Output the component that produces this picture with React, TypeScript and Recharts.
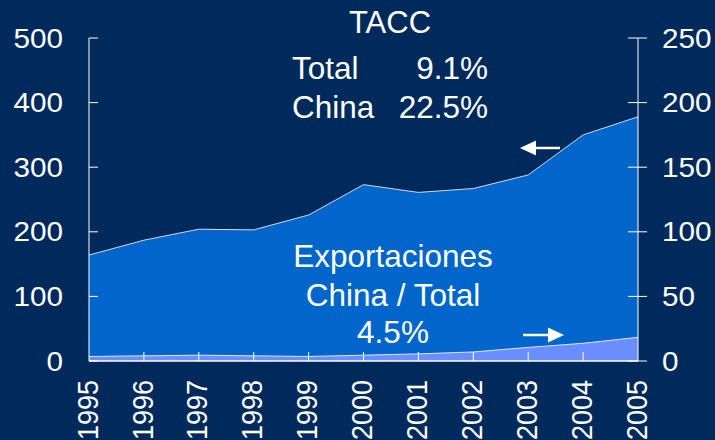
import React from "react";
import { AreaChart, Area, XAxis, YAxis } from "recharts";

const years = ["1995", "1996", "1997", "1998", "1999", "2000", "2001", "2002", "2003", "2004", "2005"];
const totalExports = [164, 187, 204, 203, 226, 273, 261, 267, 288, 350, 378];
const chinaExports = [3.5, 4, 4.5, 4, 3.5, 4.5, 5.5, 7, 10.5, 13.7, 18.3];
const leftTicks = [0, 100, 200, 300, 400, 500];
const rightTicks = [0, 50, 100, 150, 200, 250];

const data = years.map((y, i) => ({ year: y, total: totalExports[i], china: chinaExports[i] }));

const FONT = '"Liberation Sans", Arial, sans-serif';
const BG = "#00295C";
const AX = 27;

const LeftTick = (props: any) => {
  const { x, y, payload } = props;
  return (
    <g>
      <line x1={x} x2={x + 9} y1={y} y2={y} stroke="#fff" strokeWidth={1} />
      <g transform={`translate(63,${y}) scale(1.1,1)`}>
        <text x={0} y={0} dy={AX * 0.358} textAnchor="end" fill="#fff" fontSize={AX} fontFamily={FONT}>
          {payload.value}
        </text>
      </g>
    </g>
  );
};

const RightTick = (props: any) => {
  const { x, y, payload } = props;
  return (
    <g>
      <line x1={x - 10} x2={x + 9} y1={y} y2={y} stroke="#fff" strokeWidth={1} />
      <g transform={`translate(662,${y}) scale(1.1,1)`}>
        <text x={0} y={0} dy={AX * 0.358} textAnchor="start" fill="#fff" fontSize={AX} fontFamily={FONT}>
          {payload.value}
        </text>
      </g>
    </g>
  );
};

const BottomTick = (props: any) => {
  const { x, y, payload, index } = props;
  const showLine = index > 0 && index < years.length - 1;
  return (
    <g>
      {showLine && <line x1={x} x2={x} y1={y} y2={y - 9} stroke="#fff" strokeWidth={1} />}
      <g transform={`translate(${x - 2},${y + 19}) scale(1.1,1) rotate(-90)`}>
        <text x={0} y={0} dy={AX * 0.358} textAnchor="end" fill="#fff" fontSize={AX} fontFamily={FONT}>
          {payload.value}
        </text>
      </g>
    </g>
  );
};

export default function App() {
  const ann = 31.5;
  return (
    <div style={{ position: "fixed", left: 0, top: 0, width: 715, height: 440, background: BG }}>
      <AreaChart width={715} height={440} data={data} margin={{ top: 38, right: 0, left: 0, bottom: 0 }}>
        <XAxis
          dataKey="year"
          interval={0}
          height={79}
          tickSize={0}
          tickMargin={0}
          tickLine={false}
          axisLine={{ stroke: "#fff", strokeWidth: 1.5 }}
          tick={<BottomTick />}
        />
        <YAxis
          yAxisId="left"
          orientation="left"
          width={89}
          domain={[0, 500]}
          ticks={leftTicks}
          tickSize={0}
          tickMargin={0}
          tickLine={false}
          axisLine={{ stroke: "#fff", strokeWidth: 1 }}
          tick={<LeftTick />}
        />
        <YAxis
          yAxisId="right"
          orientation="right"
          width={77}
          domain={[0, 250]}
          ticks={rightTicks}
          tickSize={0}
          tickMargin={0}
          tickLine={false}
          axisLine={{ stroke: "#fff", strokeWidth: 1 }}
          tick={<RightTick />}
        />
        <Area
          yAxisId="left"
          type="linear"
          dataKey="total"
          fill="#0066CC"
          fillOpacity={1}
          stroke="#D8D8E8"
          strokeWidth={1}
          isAnimationActive={false}
        />
        <Area
          yAxisId="right"
          type="linear"
          dataKey="china"
          fill="#6A8EFF"
          fillOpacity={1}
          stroke="#E0E6FF"
          strokeWidth={1}
          isAnimationActive={false}
        />
      </AreaChart>
      <svg width={715} height={440} style={{ position: "absolute", left: 0, top: 0, pointerEvents: "none" }}>
        <g fill="#fff" fontFamily={FONT}>
          <text x={390} y={33} fontSize={31} textAnchor="middle">TACC</text>
          <text x={292} y={79} fontSize={ann} textAnchor="start">Total</text>
          <text x={488} y={79} fontSize={ann} textAnchor="end">9.1%</text>
          <text x={292} y={118} fontSize={ann} textAnchor="start">China</text>
          <text x={488} y={118} fontSize={ann} textAnchor="end">22.5%</text>
          <text x={393} y={267} fontSize={ann} textAnchor="middle">Exportaciones</text>
          <text x={393} y={306} fontSize={ann} textAnchor="middle">China / Total</text>
          <text x={393} y={343} fontSize={ann} textAnchor="middle">4.5%</text>
        </g>
        <line x1={534} x2={560} y1={148} y2={148} stroke="#fff" strokeWidth={2.5} />
        <polygon points="520,148 536,140.5 536,155.5" fill="#fff" />
        <line x1={523} x2={550} y1={335} y2={335} stroke="#fff" strokeWidth={2.5} />
        <polygon points="564,335 548,327.5 548,342.5" fill="#fff" />
      </svg>
    </div>
  );
}
